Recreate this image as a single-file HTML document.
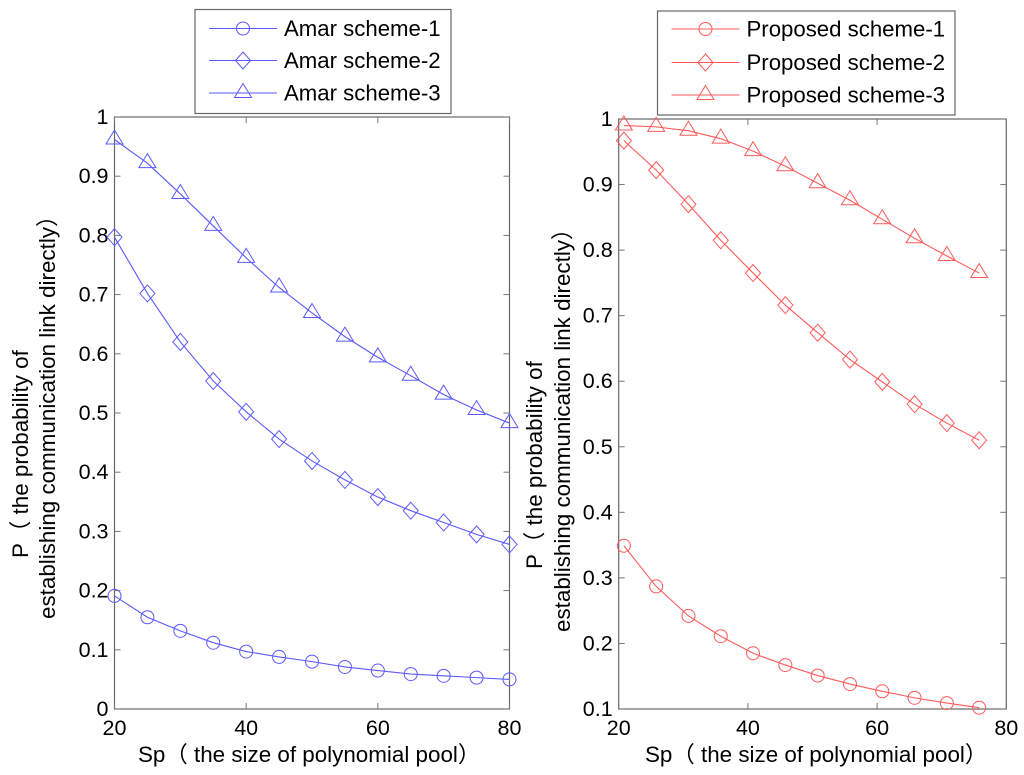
<!DOCTYPE html>
<html>
<head>
<meta charset="utf-8">
<title>Probability of establishing communication link directly</title>
<style>
html,body{margin:0;padding:0;background:#fff;}
svg{display:block;filter:blur(0.35px);}
text{font-family:"Liberation Sans","Noto Sans CJK SC",sans-serif;fill:#000;}
</style>
</head>
<body>
<svg id="figure" width="1024" height="775" viewBox="0 0 1024 775" xmlns="http://www.w3.org/2000/svg">
  <g id="plot-left"></g>
  <g id="plot-right"></g>
</svg>
<script>
const xTickValues = [20, 40, 60, 80];
const leftYTicks = [0, 0.1, 0.2, 0.3, 0.4, 0.5, 0.6, 0.7, 0.8, 0.9, 1];
const rightYTicks = [0.1, 0.2, 0.3, 0.4, 0.5, 0.6, 0.7, 0.8, 0.9, 1];

const amarSp = [20, 25, 30, 35, 40, 45, 50, 55, 60, 65, 70, 75, 80];
const amarScheme1 = [0.191, 0.155, 0.132, 0.112, 0.097, 0.088, 0.080, 0.071, 0.065, 0.059, 0.056, 0.053, 0.050];
const amarScheme2 = [0.797, 0.702, 0.620, 0.554, 0.502, 0.456, 0.419, 0.387, 0.358, 0.335, 0.315, 0.295, 0.278];
const amarScheme3 = [0.962, 0.922, 0.870, 0.816, 0.762, 0.712, 0.669, 0.629, 0.594, 0.563, 0.531, 0.505, 0.483];

const proposedSp = [20.8, 25.8, 30.8, 35.8, 40.8, 45.8, 50.8, 55.8, 60.8, 65.8, 70.8, 75.8];
const proposedScheme1 = [0.349, 0.287, 0.242, 0.211, 0.185, 0.167, 0.151, 0.138, 0.127, 0.117, 0.109, 0.102];
const proposedScheme2 = [0.967, 0.922, 0.870, 0.815, 0.765, 0.716, 0.674, 0.633, 0.599, 0.565, 0.536, 0.510];
const proposedScheme3 = [0.990, 0.988, 0.982, 0.970, 0.951, 0.928, 0.902, 0.876, 0.847, 0.818, 0.791, 0.765];

const amarNames = ['Amar scheme-1', 'Amar scheme-2', 'Amar scheme-3'];
const proposedNames = ['Proposed scheme-1', 'Proposed scheme-2', 'Proposed scheme-3'];
const markerKinds = ['circle', 'diamond', 'triangle'];

const NS = 'http://www.w3.org/2000/svg';
function make(parent, tag, attrs, text) {
  const el = document.createElementNS(NS, tag);
  for (const k in attrs) el.setAttribute(k, attrs[k]);
  if (text !== undefined) el.textContent = text;
  parent.appendChild(el);
  return el;
}
function drawMarker(parent, kind, x, y, color) {
  let el;
  if (kind === 'circle') {
    el = make(parent, 'circle', {cx: x, cy: y, r: 6.5, fill: 'none', stroke: color, 'stroke-width': 1});
  } else if (kind === 'diamond') {
    const pts = [[x, y - 8.5], [x + 7.5, y], [x, y + 8.5], [x - 7.5, y]].map(p => p.join(',')).join(' ');
    el = make(parent, 'polygon', {points: pts, fill: 'none', stroke: color, 'stroke-width': 1});
  } else {
    const pts = [[x, y - 9.5], [x + 8.5, y + 4.5], [x - 8.5, y + 4.5]].map(p => p.join(',')).join(' ');
    el = make(parent, 'polygon', {points: pts, fill: 'none', stroke: color, 'stroke-width': 1});
  }
  
  
}
function drawPlot(root, cfg) {
  const xScale = v => cfg.x0 + (v - 20) * (cfg.x1 - cfg.x0) / 60;
  const yScale = v => cfg.yBottom + (v - cfg.yMin) * (cfg.yTop - cfg.yBottom) / (1 - cfg.yMin);

  const box = make(root, 'rect', {x: cfg.x0, y: cfg.yTop, width: cfg.x1 - cfg.x0, height: cfg.yBottom - cfg.yTop, fill: '#fff', stroke: '#666', 'stroke-width': 1.2});
  
  

  xTickValues.forEach(v => {
    const x = xScale(v);
    const tickB = make(root, 'line', {x1: x, x2: x, y1: cfg.yBottom, y2: cfg.yBottom - 6, stroke: '#777', 'stroke-width': 1});
    
    
    const tickT = make(root, 'line', {x1: x, x2: x, y1: cfg.yTop, y2: cfg.yTop + 6, stroke: '#777', 'stroke-width': 1});
    
    
    const label = make(root, 'text', {x: x, y: 735, 'font-size': 21.5, 'text-anchor': 'middle'}, String(v));
    
    
  });

  cfg.yTicks.forEach(v => {
    const y = yScale(v);
    const tickL = make(root, 'line', {x1: cfg.x0, x2: cfg.x0 + 6, y1: y, y2: y, stroke: '#777', 'stroke-width': 1});
    
    
    const tickR = make(root, 'line', {x1: cfg.x1, x2: cfg.x1 - 6, y1: y, y2: y, stroke: '#777', 'stroke-width': 1});
    
    
    const label = make(root, 'text', {x: cfg.x0 - 6, y: y + 7, 'font-size': 21.5, 'text-anchor': 'end'}, String(v));
    
    
  });

  cfg.series.forEach((vals, i) => {
    const g = make(root, 'g', {});
    
    
    const pts = vals.map((v, j) => xScale(cfg.xs[j]) + ',' + yScale(v)).join(' ');
    const line = make(g, 'polyline', {points: pts, fill: 'none', stroke: cfg.color, 'stroke-width': 1.1});
    
    
    vals.forEach((v, j) => drawMarker(g, markerKinds[i], xScale(cfg.xs[j]), yScale(v), cfg.color));
  });

  const xTitle = make(root, 'text', {x: cfg.xTitleX, y: 762, 'font-size': 22.4}, 'Sp（ the size of polynomial pool）');
  
  

  const y1 = make(root, 'text', {transform: 'translate(' + cfg.yTitleX1 + ',' + cfg.yTitleY1 + ') rotate(-90)', 'font-size': 22.4}, 'P（ the probability of');
  
  
  const y2 = make(root, 'text', {transform: 'translate(' + cfg.yTitleX2 + ',' + cfg.yTitleY2 + ') rotate(-90)', 'font-size': 22.4}, 'establishing communication link directly）');
  
  

  const lg = make(root, 'g', {});
  
  
  const lgBox = make(lg, 'rect', {x: cfg.lg.x, y: cfg.lg.y, width: cfg.lg.w, height: cfg.lg.h, fill: '#fff', stroke: '#666', 'stroke-width': 1.2});
  
  
  cfg.names.forEach((name, i) => {
    const y = cfg.lg.rows[i];
    const entry = make(lg, 'g', {});
    
    
    const sample = make(entry, 'line', {x1: cfg.lg.x + 14, x2: cfg.lg.x + 82, y1: y, y2: y, stroke: cfg.color, 'stroke-width': 1.1});
    
    
    drawMarker(entry, markerKinds[i], cfg.lg.x + 48, y, cfg.color);
    const t = make(entry, 'text', {x: cfg.lg.x + 89, y: y + 7.5, 'font-size': 22.2}, name);
    
    
  });
}

drawPlot(document.getElementById('plot-left'), {
  x0: 114.5, x1: 509.5, yTop: 117, yBottom: 709, yMin: 0,
  yTicks: leftYTicks, xs: amarSp,
  series: [amarScheme1, amarScheme2, amarScheme3],
  names: amarNames, color: '#5a5aff',
  xTitleX: 138, yTitleX1: 28, yTitleY1: 558, yTitleX2: 55, yTitleY2: 619,
  lg: {x: 195, y: 9.5, w: 256, h: 104, rows: [28.5, 60.5, 93]}
});
drawPlot(document.getElementById('plot-right'), {
  x0: 618.7, x1: 1006.3, yTop: 119, yBottom: 709, yMin: 0.1,
  yTicks: rightYTicks, xs: proposedSp,
  series: [proposedScheme1, proposedScheme2, proposedScheme3],
  names: proposedNames, color: '#ff5a5a',
  xTitleX: 645, yTitleX1: 542, yTitleY1: 569, yTitleX2: 570, yTitleY2: 632,
  lg: {x: 657.5, y: 11, w: 297.5, h: 104, rows: [29, 62.5, 95]}
});
</script>
</body>
</html>
